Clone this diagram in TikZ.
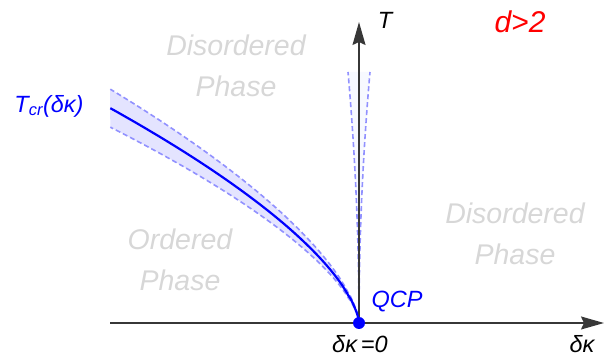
\documentclass[tikz,border=0pt]{standalone}
\usepackage{fontspec}
\setmainfont{Liberation Sans}
\usetikzlibrary{arrows.meta,positioning}
\definecolor{phasegray}{RGB}{215,215,215}
\definecolor{bandblue}{RGB}{228,228,255}
\definecolor{dashblue}{RGB}{145,145,255}
\definecolor{wedgeblue}{RGB}{247,249,255}
\definecolor{axisgray}{RGB}{55,55,55}

\begin{document}
\begin{tikzpicture}[x=1pt, y=-1pt,
    phase/.style={text=phasegray, font=\fontsize{28.5}{41.5}\selectfont\itshape, align=center},
    axis/.style={draw=axisgray, line width=1.4pt, -{Stealth[length=23pt, width=13pt, inset=3pt]}},
    bandline/.style={draw=dashblue, dash pattern=on 5pt off 3pt, line width=1.6pt},
    lbl/.style={font=\fontsize{23.5}{27}\selectfont\itshape}]
    \useasboundingbox (0,0) rectangle (606,358);

    \coordinate (qcp) at (359,323);
    \coordinate (xstart) at (110,323);
    \coordinate (xend) at (604,323);
    \coordinate (yend) at (359,22);

    % uncertainty band around the critical line
    \fill[bandblue] plot[domain=1:0.001, samples=80] ({359-249*pow(\x,1.55)}, {323-234*\x})
        -- (qcp) -- plot[domain=0.001:1, samples=80] ({359-249*pow(\x,1.55)}, {323-196*\x}) -- cycle;
    % narrow wedge on the T axis
    \fill[wedgeblue] (qcp) -- plot[domain=0:251, samples=40] ({359-11*(\x/251)^2}, {323-\x})
        -- plot[domain=251:0, samples=40] ({359+11*(\x/251)^2}, {323-\x}) -- cycle;
    \draw[bandline] (qcp) -- plot[domain=0.001:1, samples=80] ({359-249*pow(\x,1.55)}, {323-234*\x});
    \draw[bandline] (qcp) -- plot[domain=0.001:1, samples=80] ({359-249*pow(\x,1.55)}, {323-196*\x});
    \draw[bandline] (qcp) -- plot[domain=0:251, samples=40] ({359-11*(\x/251)^2}, {323-\x});
    \draw[bandline] (qcp) -- plot[domain=0:251, samples=40] ({359+11*(\x/251)^2}, {323-\x});

    % axes
    \draw[axis] (xstart) -- (xend);
    \draw[axis] (qcp) -- (yend);

    % critical line
    \draw[blue, line width=2.2pt] (qcp) -- plot[domain=0.001:1, samples=80] ({359-249*pow(\x,1.55)}, {323-215*\x});
    \node (dot) [circle, fill=blue, inner sep=0pt, minimum size=12pt] at (qcp) {};

    % labels
    \node (tlabel) [lbl] at (385,20) {T};
    \node (dim) [text=red, font=\fontsize{30}{34}\selectfont\itshape] at (520,22) {d>2};
    \node (tcr) [lbl, text=blue] at (49,106) {T\textsubscript{cr}(δκ)};
    \node (qcplabel) [lbl, text=blue] at (397,302) {QCP};
    \node (zero) [lbl] at (360,344) {δκ\,=0};
    \node (dk) [lbl] at (582,344) {δκ};

    \node (disleft) [phase] at (236,66) {Disordered\\Phase};
    \node (ordered) [phase] at (180,260) {Ordered\\Phase};
    \node (disright) [phase] at (515,234) {Disordered\\Phase};
\end{tikzpicture}
\end{document}
